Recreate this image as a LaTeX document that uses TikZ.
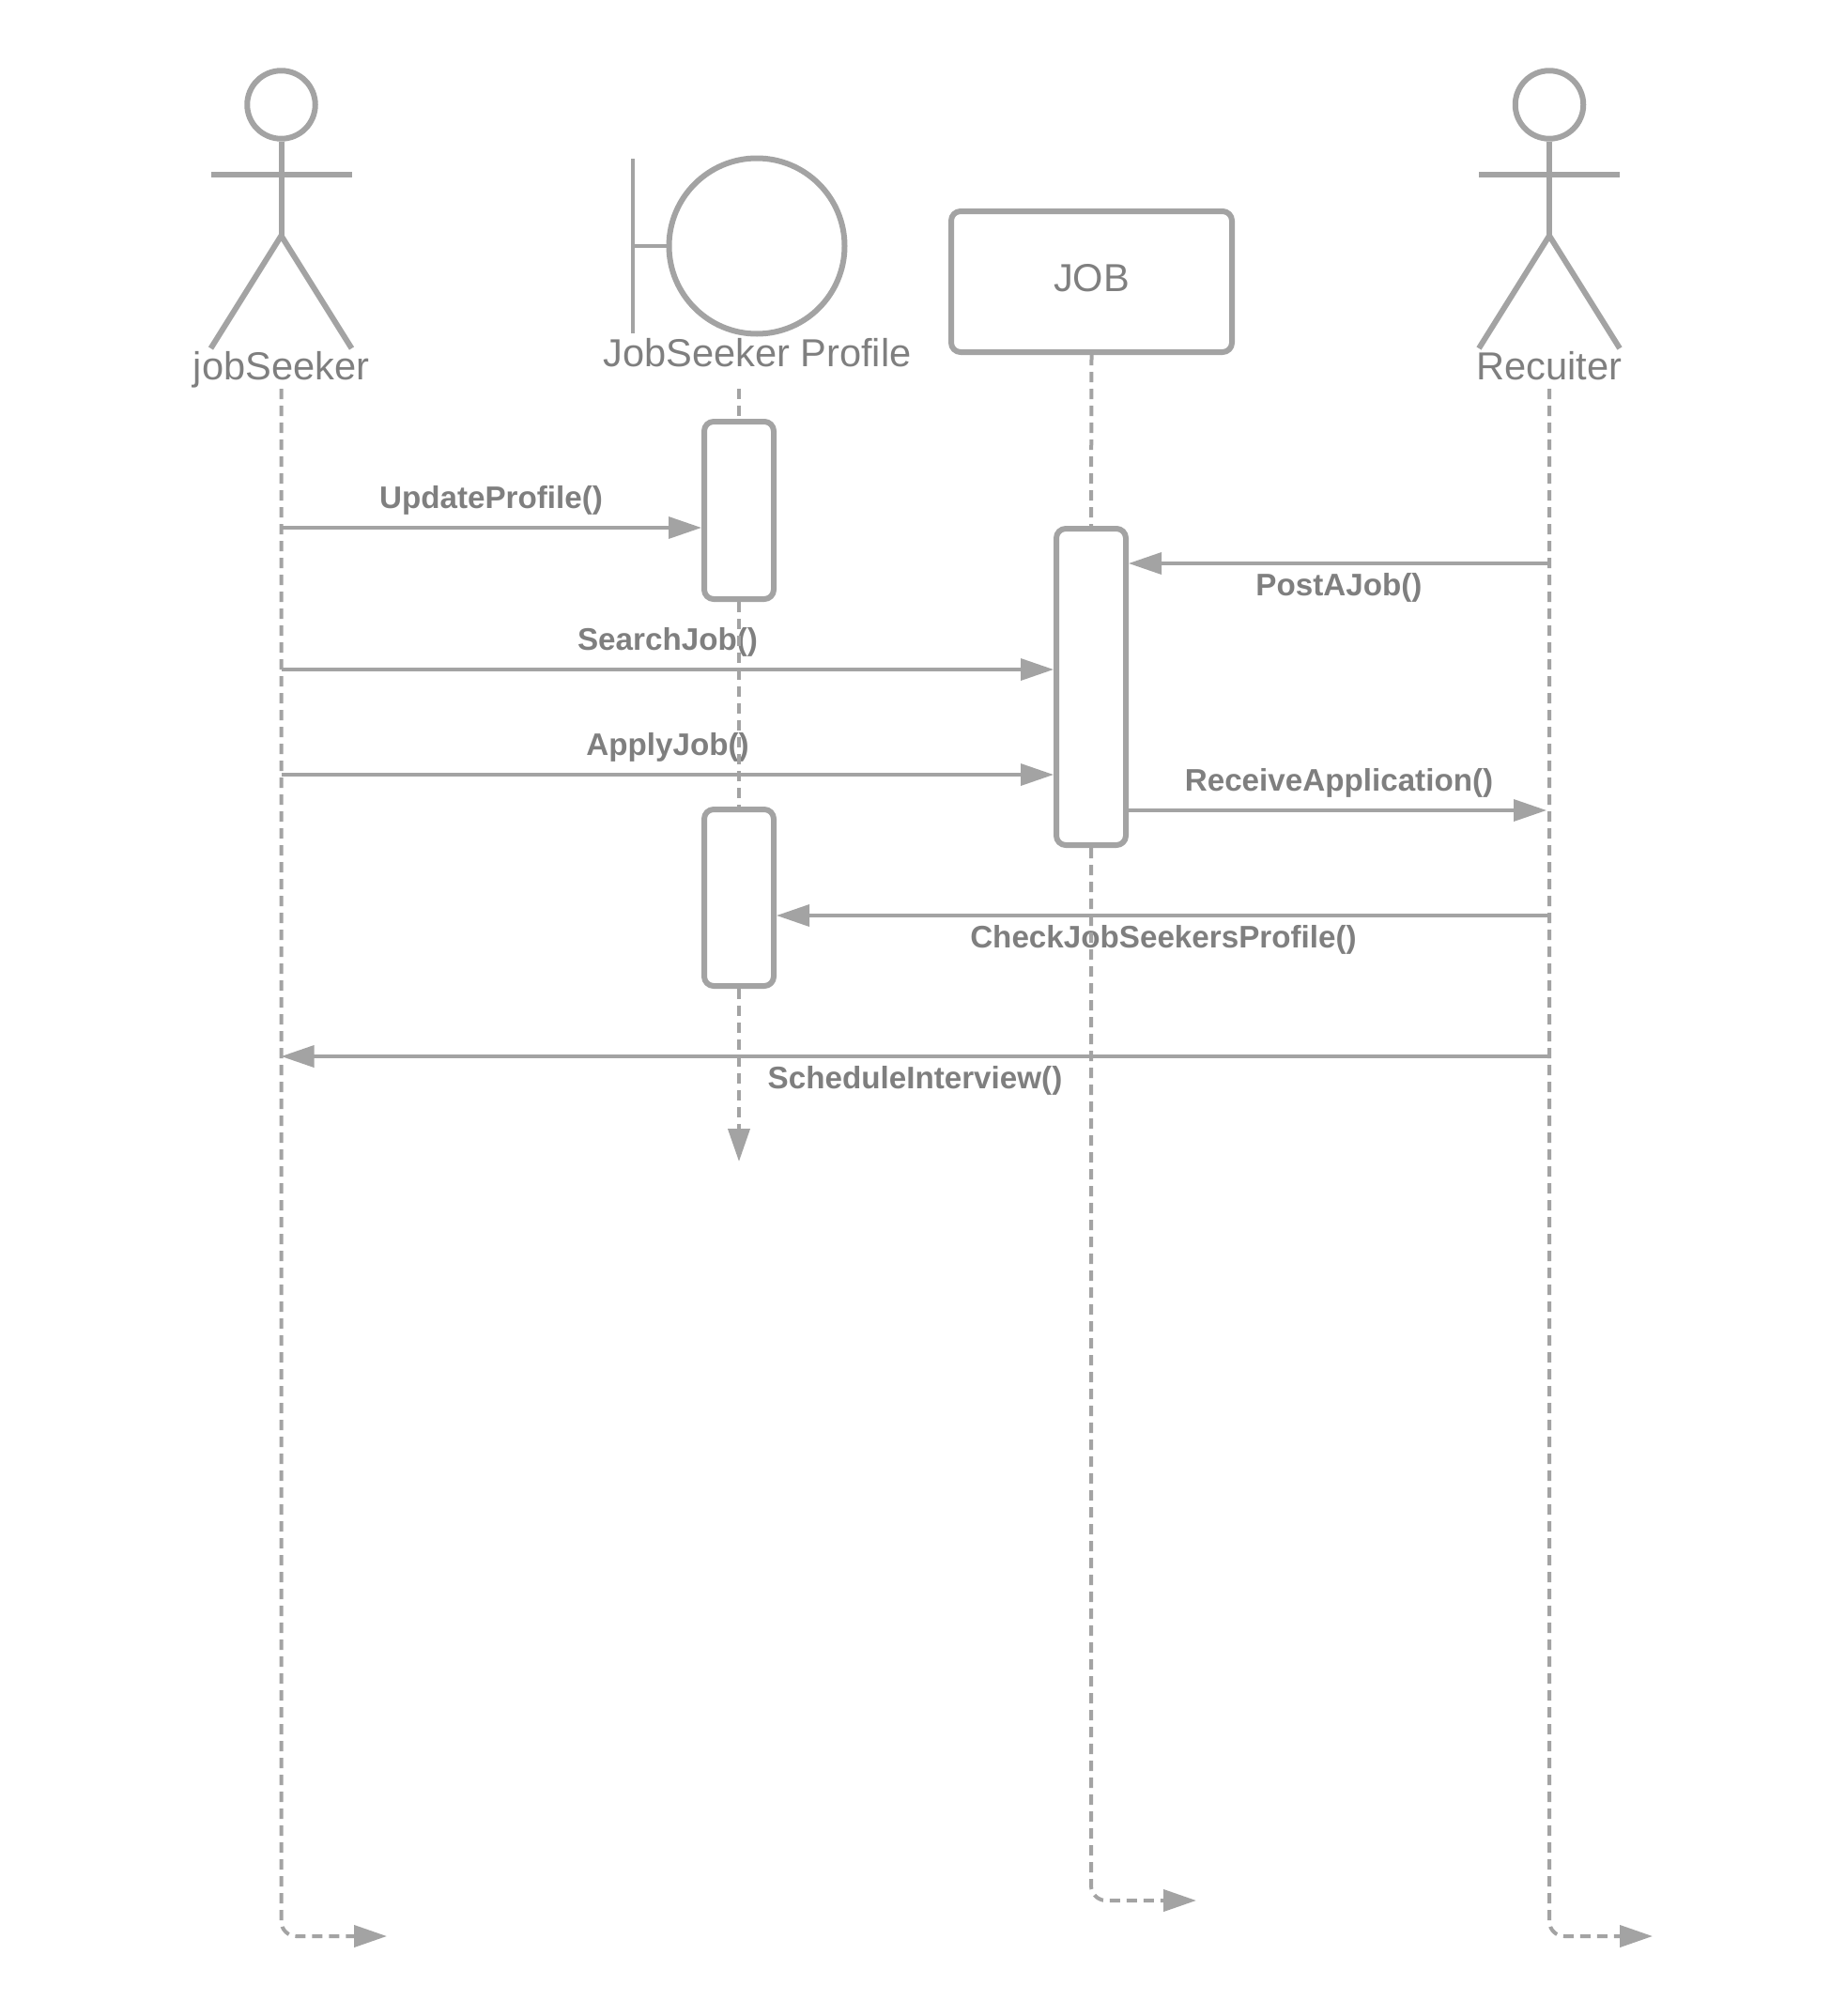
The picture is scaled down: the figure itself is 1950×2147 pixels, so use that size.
\documentclass[tikz,border=0pt]{standalone}
\usepackage{fontspec}
\setmainfont{Liberation Sans}
\usetikzlibrary{arrows.meta}
\definecolor{linegray}{HTML}{A3A3A3}
\definecolor{textgray}{HTML}{7F7F7F}
\tikzset{
  figure/.style={draw=linegray, line width=6pt, line join=round},
  actbox/.style={figure, rounded corners=10pt, minimum width=74pt},
  actorlabel/.style={text=textgray, anchor=base, font=\fontsize{41.6}{46}\selectfont},
  msglabel/.style={text=textgray, anchor=base, font=\fontsize{33.2}{38}\selectfont\bfseries},
  msg/.style={draw=linegray, line width=3.5pt, -{Triangle[length=35pt,width=23pt]}, linegray},
  lifeline/.style={draw=linegray, line width=4pt, dash pattern=on 11pt off 7pt},
  lifeend/.style={lifeline, rounded corners=16pt, -{Triangle[length=35pt,width=23pt,sep=0pt]}, linegray}
}
\begin{document}
\begin{tikzpicture}[x=1pt, y=-1pt]
  \useasboundingbox (0,0) rectangle (1950,2147);
  \foreach \actorname/\actorx/\actortext in {seeker/299.5/jobSeeker, recruiter/1650/Recuiter} {
    \node[figure, circle, minimum size=72.5pt] (\actorname head) at (\actorx,111.5) {};
    \coordinate (\actorname hip) at (\actorx,251);
    \coordinate (\actorname arml) at (\actorx-75,186);
    \coordinate (\actorname armr) at (\actorx+75,186);
    \coordinate (\actorname footl) at (\actorx-75,371);
    \coordinate (\actorname footr) at (\actorx+75,371);
    \draw[figure] (\actorname head.south) -- (\actorname hip);
    \draw[figure] (\actorname arml) -- (\actorname armr);
    \draw[figure] (\actorname footl) -- (\actorname hip) -- (\actorname footr);
    \node[actorlabel] (\actorname label) at (\actorx,404.5) {\actortext};
  }
  \node[figure, circle, minimum size=187pt] (profile) at (806,262) {};
  \coordinate (profilebart) at (674,169);
  \coordinate (profilebarb) at (674,355);
  \coordinate (profilebarm) at (674,262);
  \draw[figure, line width=4.5pt] (profilebart) -- (profilebarb);
  \draw[figure, line width=4.5pt] (profilebarm) -- (profile.west);
  \node[actorlabel] (profilelabel) at (806.5,390) {JobSeeker Profile};
  \node[figure, rounded corners=10pt, minimum width=299pt, minimum height=150pt, text=textgray,
    text depth=8pt, font=\fontsize{41.6}{46}\selectfont] (job) at (1162.5,300) {JOB};

  \node[msglabel] (updatelabel) at (523,541) {UpdateProfile()};
  \node[msglabel] (postlabel) at (1426,634) {PostAJob()};
  \node[msglabel] (searchlabel) at (711,692) {SearchJob()};
  \node[msglabel] (applylabel) at (711,804) {ApplyJob()};
  \node[msglabel] (receivelabel) at (1426,842) {ReceiveApplication()};
  \node[msglabel] (checklabel) at (1239,1009.5) {CheckJobSeekersProfile()};
  \node[msglabel] (schedulelabel) at (974.5,1159.5) {ScheduleInterview()};

  \node[actbox, minimum height=189pt] (act1) at (787,543.5) {};
  \node[actbox, minimum height=337pt] (act2) at (1162,731.5) {};
  \node[actbox, minimum height=188pt] (act3) at (787,956) {};

  \coordinate (seekertop) at (299.5,414);
  \coordinate (seekerend) at (412,2062);
  \coordinate (profiletop) at (787,414);
  \coordinate (profileend) at (787,1237);
  \coordinate (jobend) at (1274,2024);
  \coordinate (recruitertop) at (1650,414);
  \coordinate (recruiterend) at (1760,2062);
  \draw[lifeend] (seekertop) |- (seekerend);
  \draw[lifeend] (recruitertop) |- (recruiterend);
  \draw[lifeline] (job.south) -- (act2.north);
  \draw[lifeend] (act2.south) |- (jobend);
  \draw[lifeline] (profiletop) -- (act1.north);
  \draw[lifeline] (act1.south) -- (act3.north);
  \draw[lifeend] (act3.south) -- (profileend);

  \coordinate (updatefrom) at (299.5,562);
  \coordinate (postfrom) at (1650,600);
  \coordinate (searchfrom) at (299.5,713);
  \coordinate (applyfrom) at (299.5,825);
  \coordinate (receiveto) at (1647,863);
  \coordinate (checkfrom) at (1650,975);
  \coordinate (schedulefrom) at (1650,1125);
  \draw[msg] (updatefrom) -- (act1.west |- updatefrom);
  \draw[msg] (postfrom) -- (act2.east |- postfrom);
  \draw[msg] (searchfrom) -- (act2.west |- searchfrom);
  \draw[msg] (applyfrom) -- (act2.west |- applyfrom);
  \draw[msg] (act2.east |- receiveto) -- (receiveto);
  \draw[msg] (checkfrom) -- (act3.east |- checkfrom);
  \draw[msg] (schedulefrom) -- (seekertop |- schedulefrom);
\end{tikzpicture}
\end{document}
